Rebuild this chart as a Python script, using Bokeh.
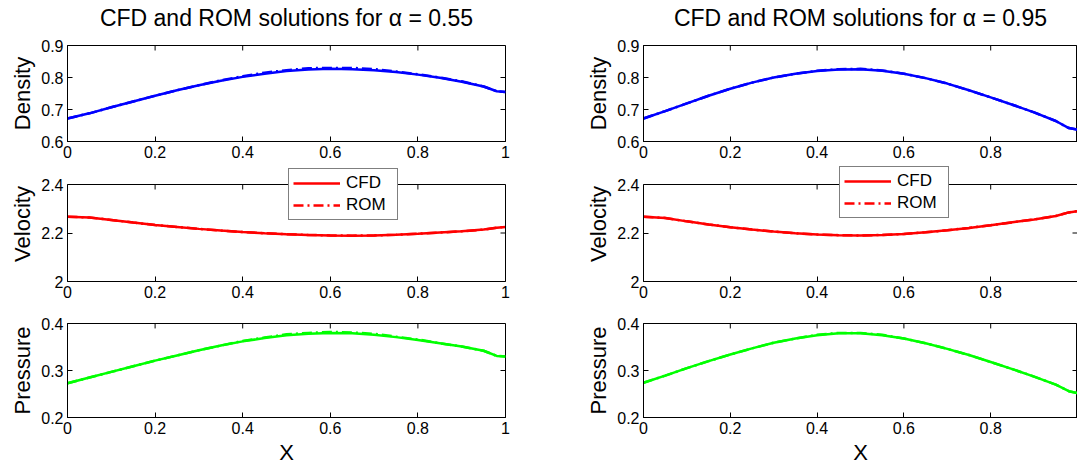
from bokeh.plotting import figure
from bokeh.layouts import column, row
from bokeh.models import Range1d, FixedTicker, Legend, LegendItem, LinearAxis
from bokeh.embed import file_html
from bokeh.resources import INLINE

# ---- data -------------------------------------------------------------
x = [0.0, 0.05, 0.1, 0.15, 0.2, 0.25, 0.3, 0.35, 0.4, 0.45, 0.5, 0.55,
     0.6, 0.65, 0.7, 0.75, 0.8, 0.85, 0.9, 0.95, 0.98, 1.0]

# alpha = 0.55
rho_cfd_055 = [0.672, 0.688, 0.707, 0.725, 0.743, 0.760, 0.776, 0.790, 0.802, 0.812, 0.820, 0.825,
               0.827, 0.826, 0.823, 0.817, 0.809, 0.799, 0.787, 0.772, 0.757, 0.755]
rho_rom_055 = [0.672, 0.688, 0.707, 0.725, 0.743, 0.760, 0.776, 0.791, 0.804, 0.815, 0.823, 0.829,
               0.830, 0.830, 0.826, 0.819, 0.810, 0.800, 0.788, 0.772, 0.757, 0.755]
u_cfd_055 = [2.267, 2.264, 2.254, 2.243, 2.233, 2.225, 2.217, 2.210, 2.204, 2.199, 2.195, 2.192,
             2.190, 2.189, 2.190, 2.193, 2.197, 2.202, 2.207, 2.214, 2.222, 2.225]
u_rom_055 = [2.267, 2.264, 2.254, 2.243, 2.233, 2.225, 2.217, 2.210, 2.204, 2.199, 2.195, 2.192,
             2.190, 2.189, 2.190, 2.193, 2.197, 2.202, 2.207, 2.214, 2.222, 2.225]
p_cfd_055 = [0.273, 0.285, 0.297, 0.309, 0.321, 0.332, 0.343, 0.353, 0.362, 0.369, 0.375, 0.378,
             0.380, 0.379, 0.376, 0.371, 0.365, 0.358, 0.351, 0.342, 0.331, 0.330]
p_rom_055 = [0.273, 0.285, 0.297, 0.309, 0.321, 0.332, 0.343, 0.353, 0.363, 0.370, 0.377, 0.380,
             0.382, 0.381, 0.378, 0.372, 0.366, 0.358, 0.351, 0.342, 0.331, 0.330]

# alpha = 0.95
rho_cfd_095 = [0.672, 0.695, 0.719, 0.743, 0.765, 0.784, 0.800, 0.812, 0.820, 0.825, 0.826, 0.821,
               0.812, 0.798, 0.781, 0.760, 0.738, 0.715, 0.691, 0.664, 0.642, 0.637]
rho_rom_095 = [0.672, 0.695, 0.719, 0.743, 0.765, 0.784, 0.800, 0.812, 0.821, 0.826, 0.827, 0.822,
               0.812, 0.798, 0.781, 0.760, 0.738, 0.715, 0.691, 0.664, 0.642, 0.637]
u_cfd_095 = [2.267, 2.262, 2.248, 2.235, 2.224, 2.214, 2.206, 2.199, 2.194, 2.191, 2.190, 2.192,
             2.196, 2.203, 2.211, 2.221, 2.232, 2.244, 2.256, 2.270, 2.285, 2.290]
u_rom_095 = [2.267, 2.262, 2.248, 2.235, 2.224, 2.214, 2.206, 2.199, 2.194, 2.191, 2.190, 2.192,
             2.196, 2.203, 2.211, 2.221, 2.232, 2.244, 2.256, 2.270, 2.285, 2.290]
p_cfd_095 = [0.274, 0.289, 0.305, 0.320, 0.334, 0.347, 0.359, 0.368, 0.375, 0.379, 0.379, 0.375,
             0.368, 0.358, 0.346, 0.333, 0.318, 0.303, 0.287, 0.270, 0.256, 0.252]
p_rom_095 = [0.274, 0.289, 0.305, 0.320, 0.334, 0.347, 0.359, 0.368, 0.376, 0.380, 0.380, 0.376,
             0.368, 0.358, 0.346, 0.333, 0.318, 0.303, 0.287, 0.270, 0.256, 0.252]

x_ticks_left = [0, 0.2, 0.4, 0.6, 0.8, 1]
x_ticks_right = [0, 0.2, 0.4, 0.6, 0.8]
tick_text = {0: "0", 0.2: "0.2", 0.4: "0.4", 0.6: "0.6", 0.8: "0.8", 1: "1",
             0.3: "0.3", 0.7: "0.7", 0.9: "0.9", 2: "2", 2.2: "2.2", 2.4: "2.4"}

rho_ticks = [0.6, 0.7, 0.8, 0.9]
u_ticks = [2, 2.2, 2.4]
p_ticks = [0.2, 0.3, 0.4]

FONT = "Liberation Sans"
BLUE, RED, GREEN = "#0000ff", "#ff0000", "#00ff00"
DASHDOT = "10 4 2 4"
TICK_PX = 5


def panel(col, rowi, ylim, yticks, ylabel, cfd, rom, color, title=None, xlabel=None,
          legend_xy=None):
    if col == 0:
        width, b_left, b_right = 525, 67, 20
        xt = x_ticks_left
    else:
        width, b_left, b_right = 552, 118, 0
        xt = x_ticks_right
    frame_w = width - b_left - b_right

    # (figure height, top border, bottom border)
    heights = [(165, 45, 24), (138, 1, 22), (164, 20, 49)]
    height, b_top, b_bottom = heights[rowi]
    frame_h = height - b_top - b_bottom

    y0, y1 = ylim
    if legend_xy is not None:
        # the legend straddles the top edge of the box, so the frame is made
        # taller than the boxed data area and the box edges are drawn separately
        box_h = 97
        y_top = y0 + (y1 - y0) * frame_h / box_h
    else:
        box_h = frame_h
        y_top = y1

    p = figure(width=width, height=height, output_backend="svg", toolbar_location=None,
               x_range=Range1d(0, 1), y_range=Range1d(y0, y_top),
               min_border_left=b_left, min_border_right=b_right,
               min_border_top=b_top, min_border_bottom=b_bottom,
               background_fill_color="white", border_fill_color="white")
    p.grid.visible = False

    p.xaxis.ticker = FixedTicker(ticks=xt)
    p.yaxis.ticker = FixedTicker(ticks=yticks)
    for ax in (p.xaxis[0], p.yaxis[0]):
        ax.major_label_overrides = tick_text
        ax.major_label_text_font = FONT
        ax.major_label_text_font_size = "16px"
        ax.major_label_text_color = "black"
        ax.major_tick_in = TICK_PX
        ax.major_tick_out = 0
        ax.minor_tick_line_color = None
        ax.axis_line_color = "black"
        ax.major_tick_line_color = "black"
        ax.major_label_standoff = 4
        ax.axis_label_text_font = FONT
        ax.axis_label_text_font_size = "22px"
        ax.axis_label_text_font_style = "normal"
        ax.axis_label_text_color = "black"
    p.yaxis.axis_label = ylabel
    p.yaxis.axis_label_standoff = 3
    if xlabel:
        p.xaxis.axis_label = xlabel
        p.xaxis.axis_label_standoff = 3

    if legend_xy is not None:
        p.outline_line_color = None
        p.yaxis.bounds = (y0, y1)
        edge = LinearAxis(ticker=FixedTicker(ticks=[]), bounds=(y0, y1),
                          axis_line_color="black", major_tick_line_color=None,
                          minor_tick_line_color=None)
        p.add_layout(edge, "right")
        p.line(x=[0, 1], y=[y1, y1], line_color="black", line_width=1)
    else:
        p.outline_line_color = "black"
        p.outline_line_width = 1

    # inward tick marks on the top and right edges of the box
    dy = (y1 - y0) * TICK_PX / box_h
    dx = TICK_PX / frame_w
    p.segment(x0=xt, y0=[y1] * len(xt), x1=xt, y1=[y1 - dy] * len(xt),
              line_color="black", line_width=1)
    p.segment(x0=[1] * len(yticks), y0=yticks, x1=[1 - dx] * len(yticks), y1=yticks,
              line_color="black", line_width=1)

    if title:
        # panel heading, set as the label of a tick-less top axis
        head = LinearAxis(ticker=FixedTicker(ticks=[]), axis_line_color=None,
                          major_tick_line_color=None, minor_tick_line_color=None,
                          axis_label=title, axis_label_standoff=15,
                          axis_label_text_font=FONT, axis_label_text_font_size="23px",
                          axis_label_text_font_style="normal", axis_label_text_color="black")
        p.add_layout(head, "above")

    r1 = p.line(x, cfd, line_color=color, line_width=2.5)
    r2 = p.line(x, rom, line_color=color, line_width=2.5, line_dash=DASHDOT)

    if legend_xy is not None:
        leg = Legend(items=[LegendItem(label="CFD", renderers=[r1]),
                            LegendItem(label="ROM", renderers=[r2])],
                     location=legend_xy, orientation="vertical",
                     glyph_width=47, glyph_height=20, label_standoff=6, label_width=47,
                     padding=4, spacing=2, margin=0,
                     label_text_font=FONT, label_text_font_size="17px",
                     label_text_color="black",
                     border_line_color="black", border_line_width=1,
                     background_fill_color="white", background_fill_alpha=1.0)
        p.add_layout(leg)
    return p


cols = []
for c, (a, rho_c, rho_r, u_c, u_r, p_c, p_r, lxy) in enumerate([
        ("0.55", rho_cfd_055, rho_rom_055, u_cfd_055, u_rom_055, p_cfd_055, p_rom_055, (221, 61)),
        ("0.95", rho_cfd_095, rho_rom_095, u_cfd_095, u_rom_095, p_cfd_095, p_rom_095, (196, 63))]):
    f1 = panel(c, 0, (0.6, 0.9), rho_ticks, "Density", rho_c, rho_r, BLUE,
               title="CFD and ROM solutions for \u03b1 = " + a)
    f2 = panel(c, 1, (2.0, 2.4), u_ticks, "Velocity", u_c, u_r, RED, legend_xy=lxy)
    f3 = panel(c, 2, (0.2, 0.4), p_ticks, "Pressure", p_c, p_r, GREEN, xlabel="X")
    cols.append([f1, f2, f3])

layout = column(row(cols[0][0], cols[1][0], spacing=0),
                row(cols[0][1], cols[1][1], spacing=0),
                row(cols[0][2], cols[1][2], spacing=0), spacing=0)

open("out.html", "w").write(file_html(layout, INLINE))
